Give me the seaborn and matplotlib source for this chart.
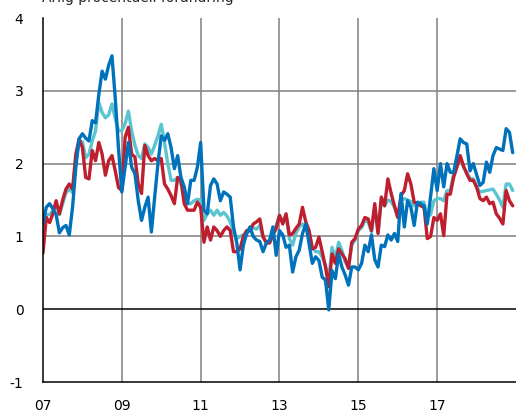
import numpy as np
import pandas as pd
import seaborn as sns
import matplotlib
matplotlib.use("Agg")
import matplotlib.pyplot as plt

sns.set_style("white")
plt.rcParams['font.family'] = ['DejaVu Sans']

# Monthly series, Jan 2007 - Dec 2018
blue = [1.18, 1.40, 1.45, 1.38, 1.30, 1.05, 1.12, 1.15, 1.02, 1.40, 1.95, 2.34,
        2.41, 2.35, 2.31, 2.59, 2.56, 2.95, 3.27, 3.16, 3.35, 3.48, 2.90, 2.20,
        1.61, 1.95, 2.29, 1.95, 1.86, 1.49, 1.22, 1.40, 1.54, 1.06, 1.54, 2.00,
        2.38, 2.32, 2.41, 2.22, 1.93, 2.11, 1.81, 1.68, 1.45, 1.77, 1.77, 1.95,
        2.29, 1.36, 1.31, 1.70, 1.79, 1.72, 1.49, 1.61, 1.58, 1.54, 1.13, 0.91,
        0.54, 0.88, 1.04, 1.13, 1.00, 0.95, 0.93, 0.79, 0.91, 0.95, 1.13, 0.74,
        1.08, 1.02, 0.85, 0.88, 0.51, 0.72, 0.81, 1.04, 1.17, 0.90, 0.63, 0.72,
        0.67, 0.44, 0.40, -0.01, 0.53, 0.42, 0.76, 0.58, 0.47, 0.33, 0.58, 0.58,
        0.54, 0.63, 0.88, 0.79, 1.02, 0.68, 0.58, 0.88, 0.86, 1.02, 0.95, 1.04,
        0.93, 1.59, 1.13, 1.49, 1.40, 1.15, 1.47, 1.45, 1.42, 1.17, 1.55, 1.93,
        1.63, 2.00, 1.68, 2.00, 1.88, 1.88, 2.10, 2.34, 2.29, 2.27, 1.90, 2.00,
        1.85, 1.70, 1.74, 2.02, 1.88, 2.11, 2.22, 2.20, 2.18, 2.48, 2.43, 2.15]

red = [0.77, 1.26, 1.19, 1.31, 1.49, 1.31, 1.50, 1.65, 1.72, 1.65, 2.13, 2.34,
       2.22, 1.81, 1.79, 2.18, 2.04, 2.29, 2.13, 1.84, 2.04, 2.11, 1.90, 1.67,
       1.63, 2.36, 2.50, 2.13, 2.09, 1.72, 1.59, 2.25, 2.11, 2.04, 2.07, 2.04,
       2.07, 1.72, 1.65, 1.56, 1.45, 1.81, 1.77, 1.45, 1.36, 1.36, 1.36, 1.47,
       1.40, 0.92, 1.13, 0.95, 1.13, 1.08, 1.00, 1.08, 1.13, 1.08, 0.79, 0.79,
       0.83, 1.00, 1.08, 1.08, 1.17, 1.20, 1.24, 1.00, 0.91, 0.91, 1.02, 1.11,
       1.29, 1.17, 1.31, 1.02, 1.04, 1.11, 1.17, 1.40, 1.20, 1.08, 0.83, 0.85,
       0.99, 0.79, 0.58, 0.31, 0.76, 0.63, 0.83, 0.76, 0.69, 0.56, 0.92, 0.97,
       1.10, 1.15, 1.26, 1.24, 1.08, 1.45, 1.04, 1.54, 1.42, 1.79, 1.59, 1.42,
       1.26, 1.56, 1.63, 1.86, 1.72, 1.47, 1.45, 1.42, 1.40, 0.97, 1.00, 1.26,
       1.22, 1.31, 1.01, 1.58, 1.58, 1.81, 1.95, 2.11, 1.97, 1.86, 1.77, 1.77,
       1.68, 1.52, 1.49, 1.54, 1.45, 1.47, 1.31, 1.25, 1.17, 1.63, 1.49, 1.42]

cyan = [0.95, 1.30, 1.30, 1.35, 1.45, 1.30, 1.45, 1.60, 1.65, 1.60, 2.05, 2.30,
        2.30, 2.08, 2.13, 2.31, 2.45, 2.84, 2.70, 2.63, 2.67, 2.82, 2.62, 2.45,
        2.45, 2.55, 2.72, 2.45, 2.25, 2.11, 2.07, 2.27, 2.22, 2.13, 2.25, 2.38,
        2.54, 2.29, 2.00, 1.77, 1.77, 1.81, 1.72, 1.63, 1.45, 1.45, 1.49, 1.51,
        1.50, 1.22, 1.31, 1.36, 1.29, 1.36, 1.29, 1.33, 1.28, 1.20, 1.05, 0.97,
        1.00, 1.02, 1.04, 1.08, 1.12, 1.10, 1.15, 0.98, 0.92, 0.93, 1.05, 1.15,
        1.29, 1.19, 1.29, 0.97, 0.88, 1.04, 1.13, 1.17, 1.10, 1.06, 0.85, 0.79,
        0.79, 0.72, 0.60, 0.40, 0.85, 0.69, 0.92, 0.81, 0.65, 0.58, 0.88, 0.95,
        1.08, 1.12, 1.22, 1.20, 1.06, 1.40, 1.05, 1.48, 1.42, 1.50, 1.48, 1.40,
        1.27, 1.50, 1.52, 1.50, 1.48, 1.42, 1.45, 1.47, 1.47, 1.26, 1.30, 1.49,
        1.52, 1.52, 1.49, 1.63, 1.63, 1.86, 2.00, 2.09, 1.95, 1.88, 1.79, 1.79,
        1.68, 1.61, 1.62, 1.63, 1.64, 1.65, 1.58, 1.50, 1.40, 1.72, 1.72, 1.63]

series_names = ["cyan", "red", "blue"]
colors = {"cyan": "#5bc4d1", "red": "#be1e2d", "blue": "#0071bb"}
tick_years = [2007, 2009, 2011, 2013, 2015, 2017]
tick_labels = ["07", "09", "11", "13", "15", "17"]
title = "Årlig procentuell förändring"

# decimal year for each month
years = 2007 + np.arange(len(blue)) / 12.0
df = pd.concat([
    pd.DataFrame({"year": years, "value": cyan, "serie": "cyan"}),
    pd.DataFrame({"year": years, "value": red, "serie": "red"}),
    pd.DataFrame({"year": years, "value": blue, "serie": "blue"}),
])

fig = plt.figure(figsize=(5.16, 4.12), dpi=100)
ax = fig.add_axes([0.0833, 0.0728, 0.9167, 0.8835])

# grid first so the lines sit on top
for yv in [1, 2, 3]:
    ax.axhline(yv, color="#7f7f7f", lw=1.1, zorder=0)
for xv in tick_years[1:]:
    ax.axvline(xv, color="#7f7f7f", lw=1.1, zorder=0)
ax.axhline(0, color="black", lw=1.1, zorder=0)

sns.lineplot(data=df, x="year", y="value", hue="serie", hue_order=series_names,
             palette=colors, linewidth=2.4, legend=False, ax=ax)

ax.set_xlim(2007, 2019)
ax.set_ylim(-1, 4)
ax.set_xticks(tick_years)
ax.set_xticklabels(tick_labels)
ax.set_yticks([-1, 0, 1, 2, 3, 4])
ax.set_yticklabels(["-1", "0", "1", "2", "3", "4"])
ax.tick_params(axis="both", length=0, labelsize=10, colors="black")
ax.tick_params(axis="x", pad=12)
ax.tick_params(axis="y", pad=14)
ax.set_xlabel("")
ax.set_ylabel("")

for side in ["top", "right"]:
    ax.spines[side].set_visible(False)
for side in ["left", "bottom"]:
    ax.spines[side].set_color("black")
    ax.spines[side].set_linewidth(1.1)

fig.text(0.082, 0.996, title, fontsize=10, va="baseline", ha="left")

fig.savefig("out.png", dpi=100)
